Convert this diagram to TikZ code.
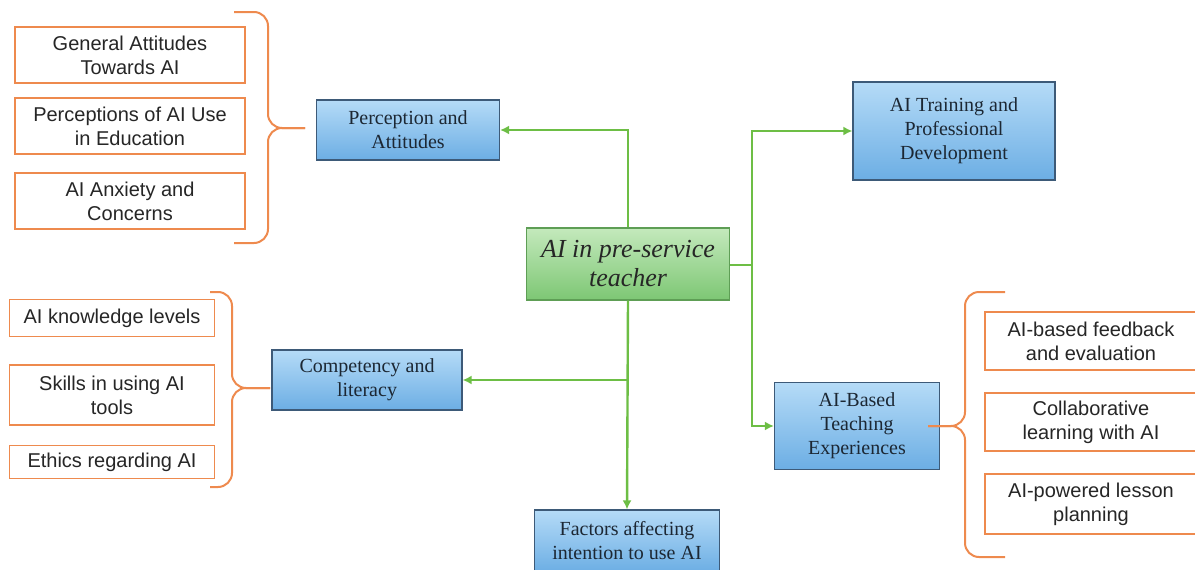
\documentclass[tikz,border=0pt]{standalone}
\usepackage{fontspec}
\setmainfont{Liberation Serif}
\setsansfont{Liberation Sans}
\usetikzlibrary{arrows.meta}
\usepackage{xcolor}

\definecolor{linkgreen}{HTML}{6DBE45}
\definecolor{hubtop}{HTML}{C4E9BC}
\definecolor{hubbot}{HTML}{7DC774}
\definecolor{hubline}{HTML}{5E9E55}
\definecolor{cattop}{HTML}{B5DBF7}
\definecolor{catbot}{HTML}{6CAEE4}
\definecolor{catline}{HTML}{3D5A78}
\definecolor{braceorange}{HTML}{EE8A4E}
\definecolor{inktext}{HTML}{1C2733}

\tikzset{
  hubbox/.style={rectangle, draw=hubline, line width=1.2pt, top color=hubtop, bottom color=hubbot,
    align=center, font=\fontsize{26}{29}\selectfont\itshape, text=black!85, inner sep=2pt},
  catbox/.style={rectangle, draw=catline, line width=1.2pt, top color=cattop, bottom color=catbot,
    align=center, font=\fontsize{20}{24}\selectfont, text=inktext, inner sep=2pt},
  subbox/.style={rectangle, draw=braceorange, line width=1.8pt, fill=white,
    align=center, font=\sffamily\fontsize{20}{24}\selectfont, text=black!85, inner sep=2pt},
  link/.style={linkgreen, line width=2.4pt, -{Latex[length=9pt,width=9pt]}},
  joint/.style={linkgreen, line width=2.4pt},
  bracket/.style={braceorange, line width=2pt, rounded corners=14pt},
}

\begin{document}
\begin{tikzpicture}[x=1pt, y=-1pt]
\useasboundingbox (0,0) rectangle (1195,570);

%hub
\node[hubbox, minimum width=203, minimum height=72] (hub) at (628,264) {AI in pre-service\\teacher};

%categories
\node[catbox, minimum width=183, minimum height=60] (percept) at (408,130) {Perception and\\Attitudes};
\node[catbox, minimum width=190, minimum height=60] (comp) at (367,380) {Competency and\\literacy};
\node[catbox, minimum width=202, minimum height=98] (training) at (954,131) {AI Training and\\Professional\\Development};
\node[catbox, minimum width=165, minimum height=87] (teaching) at (857,426) {AI-Based\\Teaching\\Experiences};
\node[catbox, minimum width=185, minimum height=62] (factors) at (627,541) {Factors affecting\\intention to use AI};

%left top group
\node[subbox, minimum width=230, minimum height=56] (attit) at (130,55) {General Attitudes\\Towards AI};
\node[subbox, minimum width=230, minimum height=56] (useedu) at (130,126) {Perceptions of AI Use\\in Education};
\node[subbox, minimum width=230, minimum height=56] (anxiety) at (130,201) {AI Anxiety and\\Concerns};

%left bottom group
\node[subbox, minimum width=205, minimum height=37] (knowl) at (112,318) {AI knowledge levels};
\node[subbox, minimum width=205, minimum height=60] (skills) at (112,395) {Skills in using AI\\tools};
\node[subbox, minimum width=205, minimum height=33] (ethics) at (112,462) {Ethics regarding AI};

%right group
\node[subbox, minimum width=212, minimum height=58] (feedback) at (1091,341) {AI-based feedback\\and evaluation};
\node[subbox, minimum width=212, minimum height=58] (collab) at (1091,422) {Collaborative\\learning with AI};
\node[subbox, minimum width=212, minimum height=60] (lesson) at (1091,504) {AI-powered lesson\\planning};

%arrows
\coordinate (rjoint) at (752,265);
\draw[link] (hub.north) |- (percept.east);
\draw[link] (hub.south) |- (comp.east);
\draw[link] (hub.south) -- (factors.north);
\draw[joint] (hub.east |- rjoint) -- (rjoint);
\draw[link] (rjoint) |- (training.west);
\draw[link] (rjoint) |- (teaching.west);

%brackets
\coordinate (tipA) at (305,128);
\coordinate (tipB) at (270,388);
\coordinate (tipC) at (928,426);
\draw[bracket] (234,12) -- (268,12) -- (268,128) -- (tipA);
\draw[bracket] (234,243) -- (268,243) -- (268,128) -- (tipA);
\draw[bracket] (210,292) -- (232,292) -- (232,388) -- (tipB);
\draw[bracket] (210,487) -- (232,487) -- (232,388) -- (tipB);
\draw[bracket] (1005,292) -- (965,292) -- (965,426) -- (tipC);
\draw[bracket] (1005,557) -- (965,557) -- (965,426) -- (tipC);

\end{tikzpicture}
\end{document}
